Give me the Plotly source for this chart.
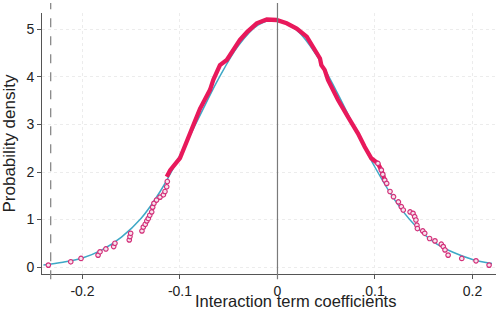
import plotly.graph_objects as go

# Fitted normal curve
fit_x = [-0.24, -0.22, -0.20, -0.18, -0.16, -0.14, -0.12, -0.10, -0.08, -0.06, -0.04, -0.02,
         0.00, 0.02, 0.04, 0.06, 0.08, 0.10, 0.12, 0.14, 0.16, 0.18, 0.20, 0.22]
fit_y = [0.045, 0.10, 0.19, 0.36, 0.63, 1.02, 1.60, 2.35, 3.17, 3.98, 4.66, 5.09,
         5.20, 4.98, 4.46, 3.72, 2.90, 2.10, 1.42, 0.90, 0.53, 0.31, 0.16, 0.075]

# Empirical density, dense central part
mid_x = [-0.1136, -0.110, -0.100, -0.095, -0.090, -0.085, -0.0795, -0.0692, -0.0658, -0.062,
         -0.059, -0.052, -0.0453, -0.0385, -0.031, -0.0213, -0.011, -0.001, 0.0094, 0.0197,
         0.030, 0.0367, 0.0436, 0.045, 0.0484, 0.0518, 0.062, 0.0723, 0.0826, 0.0894, 0.0962,
         0.103, 0.1065, 0.110]
mid_y = [1.90, 2.04, 2.29, 2.55, 2.85, 3.05, 3.33, 3.73, 3.94, 4.10,
         4.25, 4.36, 4.57, 4.78, 4.95, 5.13, 5.21, 5.20, 5.13, 5.02,
         4.85, 4.64, 4.39, 4.25, 4.15, 3.94, 3.52, 3.16, 2.81, 2.53, 2.29,
         2.18, 2.04, 1.83]

# Empirical density, sparse tails
left_x = [-0.235, -0.212, -0.2015, -0.184, -0.182, -0.176, -0.168, -0.1667, -0.152, -0.1513,
          -0.1506, -0.139, -0.1376, -0.1356, -0.134, -0.1325, -0.131, -0.129, -0.128, -0.1267,
          -0.124, -0.1205, -0.117, -0.1154, -0.1136, -0.113]
left_y = [0.04, 0.11, 0.18, 0.25, 0.32, 0.38, 0.43, 0.50, 0.57, 0.64,
          0.71, 0.76, 0.84, 0.90, 0.97, 1.02, 1.09, 1.16, 1.26, 1.34,
          1.41, 1.47, 1.52, 1.59, 1.69, 1.80]
right_x = [0.103, 0.1065, 0.108, 0.110, 0.112, 0.1154, 0.119, 0.124, 0.127, 0.129, 0.136, 0.139,
           0.1407, 0.142, 0.143, 0.1435, 0.149, 0.151, 0.156, 0.1615, 0.168, 0.170, 0.1718,
           0.175, 0.189, 0.2036, 0.217]
right_y = [2.18, 2.04, 1.95, 1.83, 1.76, 1.59, 1.48, 1.37, 1.27, 1.20, 1.16, 1.13,
           1.06, 0.99, 0.88, 0.81, 0.76, 0.71, 0.60, 0.55, 0.48, 0.43, 0.36,
           0.25, 0.18, 0.13, 0.04]

x_ticks = [-0.2, -0.1, 0, 0.1, 0.2]
x_labels = ["-0.2", "-0.1", "0", "0.1", "0.2"]
y_ticks = [0, 1, 2, 3, 4, 5]
ref_line_x = -0.2326

RED = "#e8195b"
MK = "#d3307a"
BLUE = "#3ea8c6"

fig = go.Figure()
fig.add_trace(go.Scatter(x=fit_x, y=fit_y, mode="lines",
                         line=dict(color=BLUE, width=1.5, shape="spline"),
                         hoverinfo="skip"))
fig.add_trace(go.Scatter(x=mid_x, y=mid_y, mode="lines",
                         line=dict(color=RED, width=4.3), hoverinfo="skip"))
for xs, ys in [(left_x, left_y), (right_x, right_y)]:
    fig.add_trace(go.Scatter(x=xs, y=ys, mode="markers",
                             marker=dict(symbol="circle", size=4.5, color="#f7e3ec",
                                         line=dict(color=MK, width=1.2)),
                             hoverinfo="skip"))

fig.add_shape(type="line", xref="x", yref="paper", x0=ref_line_x, x1=ref_line_x,
              y0=-0.02, y1=1.038, line=dict(color="#8a8a8a", width=1.3, dash="dash"))
fig.add_shape(type="line", xref="x", yref="paper", x0=0, x1=0,
              y0=-0.02, y1=1.038, line=dict(color="#7a7a7a", width=1.2))

fig.add_annotation(text="Interaction term coefficients", xref="paper", yref="paper",
                   x=0.559, y=-0.1418, yanchor="bottom", xanchor="center", showarrow=False,
                   borderpad=0,
                   font=dict(family="Liberation Sans, Arial", size=16.5, color="#222"))
fig.add_annotation(text="Probability density", xref="paper", yref="paper",
                   x=-0.0705, y=0.5, textangle=-90, xanchor="center", yanchor="middle",
                   showarrow=False,
                   font=dict(family="Liberation Sans, Arial", size=17, color="#222"))

fig.update_layout(
    width=498, height=311,
    margin=dict(l=42, r=2, t=13, b=37),
    plot_bgcolor="white", paper_bgcolor="white",
    showlegend=False,
    font=dict(family="Liberation Sans, Arial", size=14, color="#222"),
    xaxis=dict(range=[-0.2415, 0.2241], tickvals=x_ticks, ticktext=x_labels,
               showline=True, linecolor="#555", linewidth=1,
               ticks="outside", ticklen=4, tickcolor="#555",
               showgrid=True, gridcolor="#ececec", griddash="dot", zeroline=False),
    yaxis=dict(range=[-0.147, 5.347], tickvals=y_ticks,
               showline=True, linecolor="#555", linewidth=1,
               ticks="outside", ticklen=4, tickcolor="#555",
               showgrid=True, gridcolor="#ececec", griddash="dot", zeroline=False),
)

fig.write_html("out.html", config={"displayModeBar": False},
               post_script="document.body.style.margin='0';document.body.style.overflow='hidden';")
